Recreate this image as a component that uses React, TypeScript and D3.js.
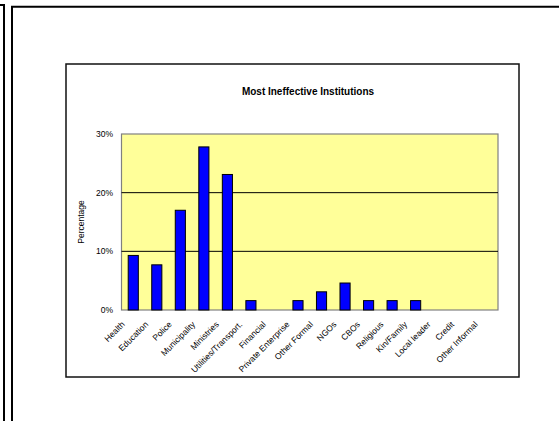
import React from "react";
import * as d3 from "d3";

// Institution categories and the share of respondents naming each as most ineffective
const categories: string[] = [
  "Health",
  "Education",
  "Police",
  "Municipality",
  "Ministries",
  "Utilities/Transport.",
  "Financial",
  "Private Enterprise",
  "Other Formal",
  "NGOs",
  "CBOs",
  "Religious",
  "Kin/Family",
  "Local leader",
  "Credit",
  "Other Informal",
];
const values: number[] = [
  0.093, 0.077, 0.17, 0.278, 0.231, 0.016, 0, 0.016, 0.031, 0.046, 0.016,
  0.016, 0.016, 0, 0, 0,
];
const yTicks: number[] = [0, 0.1, 0.2, 0.3];
const title = "Most Ineffective Institutions";
const yLabel = "Percentage";

const W = 559;
const H = 421;
const plot = { left: 121.5, right: 498, top: 134, bottom: 310 };
const font = "'Liberation Sans', Arial, sans-serif";

export default function App() {
  const x = d3
    .scaleBand<string>()
    .domain(categories)
    .range([plot.left, plot.right])
    .paddingInner(0.57)
    .paddingOuter(0.285);
  const y = d3.scaleLinear().domain([0, 0.3]).range([plot.bottom, plot.top]);
  const fmt = d3.format(".0%");
  const step = x.step();

  return (
    <svg
      width={W}
      height={H}
      style={{ position: "absolute", left: 0, top: 0, background: "#fff" }}
    >
      {/* page frame lines */}
      <path d={`M0,5H4V${H}`} fill="none" stroke="#000" strokeWidth={2} />
      <path d={`M12,${H}V6.7H${W}`} fill="none" stroke="#000" strokeWidth={2} />

      {/* chart area */}
      <rect x={66} y={64} width={453} height={313} fill="#fff" stroke="#111" strokeWidth={1.5} />

      <text
        x={308}
        y={95}
        textAnchor="middle"
        fontFamily={font}
        fontWeight="bold"
        fontSize={10}
        fill="#000"
      >
        {title}
      </text>

      {/* plot area */}
      <rect
        x={plot.left}
        y={plot.top}
        width={plot.right - plot.left}
        height={plot.bottom - plot.top}
        fill="#FFFF99"
        stroke="#808080"
        strokeWidth={1.2}
      />
      {yTicks
        .filter((t) => t > 0 && t < 0.3)
        .map((t) => (
          <line
            key={t}
            x1={plot.left}
            x2={plot.right}
            y1={y(t)}
            y2={y(t)}
            stroke="#000"
            strokeWidth={1}
          />
        ))}

      {yTicks.map((t) => (
        <text
          key={t}
          x={113}
          y={y(t) + 3}
          textAnchor="end"
          fontFamily={font}
          fontSize={8.5}
          fill="#000"
        >
          {fmt(t)}
        </text>
      ))}

      <text
        transform={`translate(84,${(plot.top + plot.bottom) / 2}) rotate(-90)`}
        textAnchor="middle"
        fontFamily={font}
        fontSize={8.5}
        fill="#000"
      >
        {yLabel}
      </text>

      {/* bars */}
      {categories.map((c, i) =>
        values[i] > 0 ? (
          <rect
            key={c}
            x={x(c)!}
            y={y(values[i])}
            width={x.bandwidth()}
            height={y(0) - y(values[i])}
            fill="#0000FF"
            stroke="#000"
            strokeWidth={1}
          />
        ) : null
      )}

      {/* category labels */}
      {categories.map((c) => {
        const cx = x(c)! + x.bandwidth() / 2;
        return (
          <text
            key={c}
            transform={`translate(${cx - 8},${plot.bottom + 15}) rotate(-45)`}
            textAnchor="end"
            fontFamily={font}
            fontSize={8.5}
            fill="#000"
          >
            {c}
          </text>
        );
      })}
    </svg>
  );
}
